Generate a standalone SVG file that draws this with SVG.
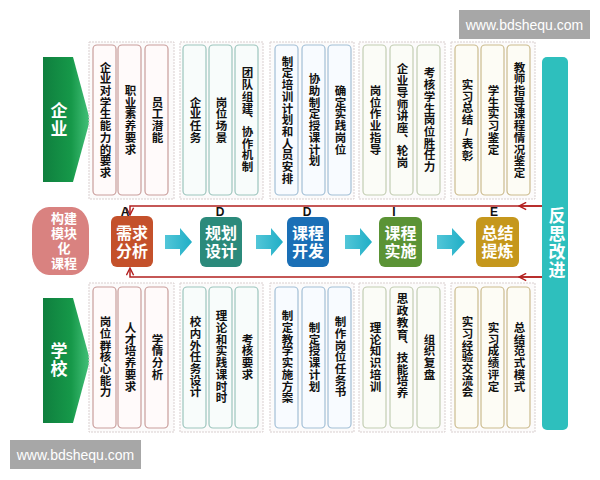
<svg xmlns="http://www.w3.org/2000/svg" width="600" height="480" viewBox="0 0 600 480">
<defs>
<linearGradient id="gArrow" x1="0" y1="0" x2="1" y2="0">
<stop offset="0" stop-color="#0f7f3e"/>
<stop offset="0.6" stop-color="#169849"/>
<stop offset="1" stop-color="#45c27a"/>
</linearGradient>
<linearGradient id="gCyan" x1="0" y1="0" x2="1" y2="0">
<stop offset="0" stop-color="#52c6d8"/>
<stop offset="1" stop-color="#1faec6"/>
</linearGradient>
<marker id="ah" viewBox="0 0 10 10" refX="9" refY="5" markerWidth="6" markerHeight="6" orient="auto">
<path d="M1,1 L9,5 L1,9" fill="none" stroke="#b3201f" stroke-width="1.6"/>
</marker>
</defs>
<style>
.vt{font-family:"Liberation Sans","Noto Sans CJK SC",sans-serif;font-weight:bold;font-size:11.5px;fill:#111;writing-mode:vertical-rl;text-orientation:upright;letter-spacing:0.2px;text-anchor:middle}
.outer{fill:#fcfbfb;stroke:#d9cfcf;stroke-width:1;stroke-dasharray:2 1}
.c1{fill:#fffafa;stroke:#c99d9b;stroke-width:1.2}
.c2{fill:#f8fcfb;stroke:#9cc5bd;stroke-width:1.2}
.c3{fill:#f8fbff;stroke:#a2bfd6;stroke-width:1.2}
.c4{fill:#fbfcf7;stroke:#c2cdb2;stroke-width:1.2}
.c5{fill:#fdfcf5;stroke:#cbbb8e;stroke-width:1.2}
.step{font-family:"Liberation Sans","Noto Sans CJK SC",sans-serif;font-weight:bold;font-size:16px;fill:#fff;text-anchor:middle}
.lbl{font-family:"Liberation Sans","Noto Sans CJK SC",sans-serif;font-weight:bold;font-size:12px;fill:#111;text-anchor:middle}
.big{font-family:"Liberation Sans","Noto Sans CJK SC",sans-serif;font-weight:bold;font-size:18px;fill:#fff;text-anchor:middle}
.bigv{font-family:"Liberation Sans","Noto Sans CJK SC",sans-serif;font-weight:bold;font-size:17px;fill:#fff;text-anchor:middle;writing-mode:vertical-rl;text-orientation:upright;letter-spacing:1px}
.wm{font-family:"Liberation Sans",sans-serif;font-size:14px;fill:#fff;text-anchor:middle}
.red{fill:none;stroke:#b3201f;stroke-width:1.5}
</style>

<!-- watermarks -->
<g id="wm-top"><rect x="459" y="10" width="131" height="29" fill="#a7a7a7"/><text class="wm" x="524.5" y="29.5">www.bdshequ.com</text></g>
<g id="wm-bottom"><rect x="10" y="440" width="131" height="29" fill="#a7a7a7"/><text class="wm" x="75.5" y="459.5">www.bdshequ.com</text></g>

<!-- left green arrows -->
<g id="qiye"><polygon points="43,57 73,57 90,120 73,182 43,182" fill="url(#gArrow)"/><text class="bigv" x="57" y="120">企业</text></g>
<g id="xuexiao"><polygon points="43,298 73,298 90,360 73,423 43,423" fill="url(#gArrow)"/><text class="bigv" x="57" y="360">学校</text></g>

<!-- top groups -->
<g id="top-g1">
<rect class="outer" x="89" y="42" width="85" height="157"/>
<rect class="c1" x="93" y="45" width="23" height="150" rx="4"/><rect class="c1" x="118" y="45" width="23" height="150" rx="4"/><rect class="c1" x="145" y="45" width="23" height="150" rx="4"/>
<text class="vt" x="104.5" y="120">企业对学生能力的要求</text><text class="vt" x="129.5" y="120">职业素养要求</text><text class="vt" x="156.5" y="120">员工潜能</text>
</g>
<g id="top-g2">
<rect class="outer" x="180" y="42" width="83" height="157"/>
<rect class="c2" x="183" y="45" width="23" height="150" rx="4"/><rect class="c2" x="209" y="45" width="23" height="150" rx="4"/><rect class="c2" x="235" y="45" width="23" height="150" rx="4"/>
<text class="vt" x="194.5" y="120">企业任务</text><text class="vt" x="220.5" y="120">岗位场景</text><text class="vt" x="246.5" y="120">团队组建、协作机制</text>
</g>
<g id="top-g3">
<rect class="outer" x="270" y="42" width="84" height="157"/>
<rect class="c3" x="275" y="45" width="23" height="150" rx="4"/><rect class="c3" x="302" y="45" width="23" height="150" rx="4"/><rect class="c3" x="328" y="45" width="23" height="150" rx="4"/>
<text class="vt" x="286.5" y="120">制定培训计划和人员安排</text><text class="vt" x="313.5" y="120">协助制定授课计划</text><text class="vt" x="339.5" y="120">确定实践岗位</text>
</g>
<g id="top-g4">
<rect class="outer" x="359" y="42" width="86" height="157"/>
<rect class="c4" x="363" y="45" width="23" height="150" rx="4"/><rect class="c4" x="390" y="45" width="23" height="150" rx="4"/><rect class="c4" x="417" y="45" width="23" height="150" rx="4"/>
<text class="vt" x="374.5" y="120">岗位作业指导</text><text class="vt" x="401.5" y="116">企业导师讲座、轮岗</text><text class="vt" x="428.5" y="120">考核学生岗位胜任力</text>
</g>
<g id="top-g5">
<rect class="outer" x="451" y="42" width="84" height="157"/>
<rect class="c5" x="455" y="45" width="23" height="150" rx="4"/><rect class="c5" x="481" y="45" width="23" height="150" rx="4"/><rect class="c5" x="507" y="45" width="23" height="150" rx="4"/>
<text class="vt" x="466.5" y="120">实习总结/表彰</text><text class="vt" x="492.5" y="120">学生实习鉴定</text><text class="vt" x="518.5" y="120">教师指导课程情况鉴定</text>
</g>

<!-- bottom groups -->
<g id="bot-g1">
<rect class="outer" x="89" y="283" width="85" height="149"/>
<rect class="c1" x="93" y="287" width="23" height="141" rx="4"/><rect class="c1" x="118" y="287" width="23" height="141" rx="4"/><rect class="c1" x="145" y="287" width="23" height="141" rx="4"/>
<text class="vt" x="104.5" y="357">岗位群核心能力</text><text class="vt" x="129.5" y="357">人才培养要求</text><text class="vt" x="156.5" y="357">学情分析</text>
</g>
<g id="bot-g2">
<rect class="outer" x="180" y="283" width="83" height="149"/>
<rect class="c2" x="183" y="287" width="23" height="141" rx="4"/><rect class="c2" x="209" y="287" width="23" height="141" rx="4"/><rect class="c2" x="235" y="287" width="23" height="141" rx="4"/>
<text class="vt" x="194.5" y="357">校内外任务设计</text><text class="vt" x="220.5" y="357">理论和实践课时时</text><text class="vt" x="246.5" y="357">考核要求</text>
</g>
<g id="bot-g3">
<rect class="outer" x="270" y="283" width="84" height="149"/>
<rect class="c3" x="275" y="287" width="23" height="141" rx="4"/><rect class="c3" x="302" y="287" width="23" height="141" rx="4"/><rect class="c3" x="328" y="287" width="23" height="141" rx="4"/>
<text class="vt" x="286.5" y="357">制定教学实施方案</text><text class="vt" x="313.5" y="357">制定授课计划</text><text class="vt" x="339.5" y="357">制作岗位任务书</text>
</g>
<g id="bot-g4">
<rect class="outer" x="359" y="283" width="86" height="149"/>
<rect class="c4" x="363" y="287" width="23" height="141" rx="4"/><rect class="c4" x="390" y="287" width="23" height="141" rx="4"/><rect class="c4" x="417" y="287" width="23" height="141" rx="4"/>
<text class="vt" x="374.5" y="357">理论知识培训</text><text class="vt" x="401.5" y="346">思政教育、技能培养</text><text class="vt" x="428.5" y="357">组织复盘</text>
</g>
<g id="bot-g5">
<rect class="outer" x="451" y="283" width="84" height="149"/>
<rect class="c5" x="455" y="287" width="23" height="141" rx="4"/><rect class="c5" x="481" y="287" width="23" height="141" rx="4"/><rect class="c5" x="507" y="287" width="23" height="141" rx="4"/>
<text class="vt" x="466.5" y="357">实习经验交流会</text><text class="vt" x="492.5" y="357">实习成绩评定</text><text class="vt" x="518.5" y="357">总结范式模式</text>
</g>

<!-- right bar -->
<g id="fansi"><rect x="542" y="57" width="26" height="373" rx="5" fill="#2ebfbd"/>
<text class="bigv" x="555" y="243">反思改进</text></g>

<!-- center pink -->
<g id="goujian"><rect x="32" y="207" width="57" height="68" rx="17" ry="22" fill="#d98280"/>
<g font-family="Liberation Sans, Noto Sans CJK SC, sans-serif" font-weight="bold" font-size="13" fill="#fff" text-anchor="middle">
<text x="64" y="223">构建</text><text x="64" y="238">模块</text><text x="64" y="253">化</text><text x="64" y="268">课程</text></g></g>

<!-- connectors -->
<g id="connectors">
<path class="red" d="M542,206 H130 V215" marker-end="url(#ah)"/>
<path class="red" d="M542,206 H519" marker-end="url(#ah)"/>
<path class="red" d="M542,277 H130 V268" marker-end="url(#ah)"/>
<path class="red" d="M542,277 H519" marker-end="url(#ah)"/>
<path d="M165,235 H180 V228 L192,242 L180,256 V249 H165 Z" fill="url(#gCyan)"/>
<path d="M256,235 H271 V228 L283,242 L271,256 V249 H256 Z" fill="url(#gCyan)"/>
<path d="M345,235 H360 V228 L372,242 L360,256 V249 H345 Z" fill="url(#gCyan)"/>
<path d="M437,235 H452 V228 L465,242 L452,256 V249 H437 Z" fill="url(#gCyan)"/>
</g>

<!-- steps -->
<g id="s1"><rect x="111" y="216" width="42" height="51" rx="6" fill="#c4512b"/><text class="step" x="132" y="239">需求</text><text class="step" x="132" y="257">分析</text></g>
<g id="s2"><rect x="200" y="217" width="42" height="50" rx="6" fill="#2b8a7b"/><text class="step" x="221" y="239">规划</text><text class="step" x="221" y="257">设计</text></g>
<g id="s3"><rect x="287" y="217" width="42" height="50" rx="6" fill="#1a6fb6"/><text class="step" x="308" y="239">课程</text><text class="step" x="308" y="257">开发</text></g>
<g id="s4"><rect x="379" y="217" width="43" height="50" rx="6" fill="#5b9335"/><text class="step" x="400.5" y="239">课程</text><text class="step" x="400.5" y="257">实施</text></g>
<g id="s5"><rect x="476" y="217" width="43" height="50" rx="6" fill="#c5971c"/><text class="step" x="497.5" y="239">总结</text><text class="step" x="497.5" y="257">提炼</text></g>

<g id="labels">
<text class="lbl" x="125" y="216">A</text><text class="lbl" x="220" y="216">D</text><text class="lbl" x="307" y="216">D</text><text class="lbl" x="394" y="216">I</text><text class="lbl" x="494" y="216">E</text>
</g>
</svg>
